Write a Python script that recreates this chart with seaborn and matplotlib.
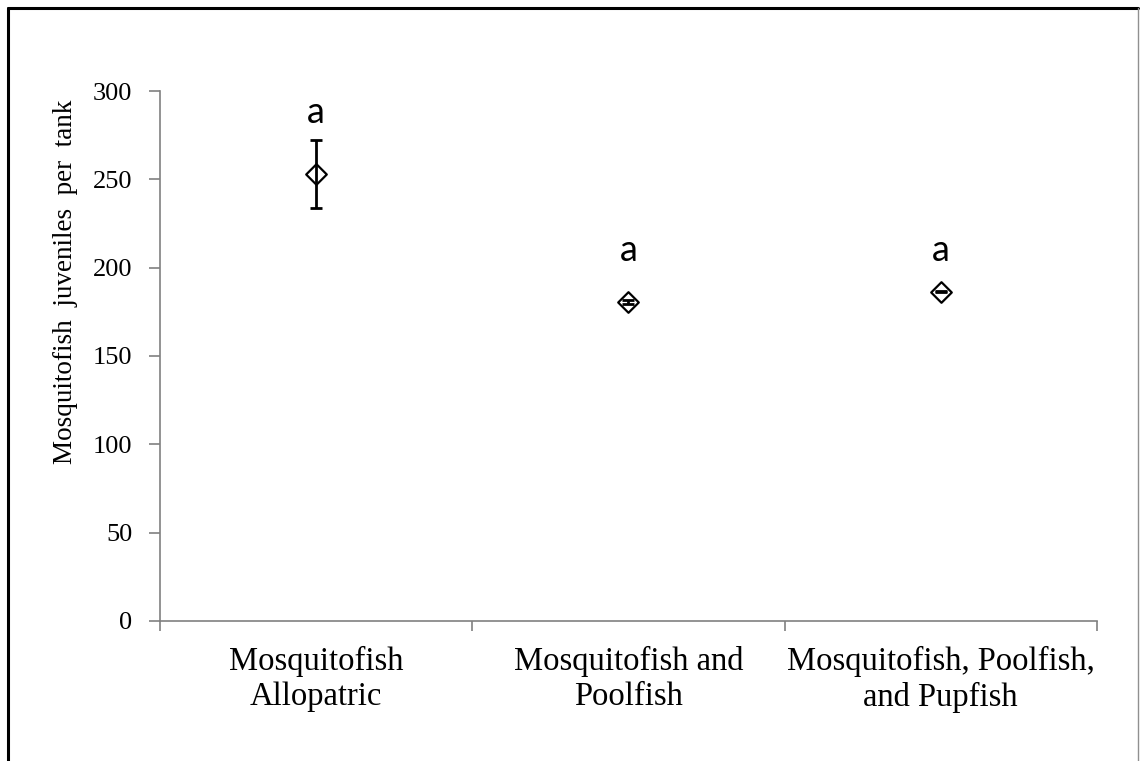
import numpy as np
import pandas as pd
import seaborn as sns
from matplotlib import pyplot as plt
from matplotlib.lines import Line2D

# values
treatments = ["Mosquitofish\nAllopatric", "Mosquitofish and\nPoolfish",
              "Mosquitofish, Poolfish,\nand Pupfish"]
juveniles = [253, 180.7, 186.5]
juv_err = [19, 1.2, 0.5]
letters = ["a", "a", "a"]
letter_y = [282, 204, 204]
y_ticks = [0, 50, 100, 150, 200, 250, 300]

df = pd.DataFrame({"treatment": treatments, "juveniles": juveniles, "err": juv_err})
df["pos"] = np.arange(len(df))

sns.set_style("white")
plt.rcParams.update({"text.color": "black", "axes.labelcolor": "black",
                     "xtick.color": "black", "ytick.color": "black"})
serif = ["Liberation Serif", "DejaVu Serif"]

fig = plt.figure(figsize=(11.41, 7.61), dpi=100)
ax = fig.add_axes([0.1402, 0.184, 0.8212, 0.6964])

# frame around the chart (left/top black, right thin grey)
fig.lines.append(Line2D([0.0068, 0.0068], [0.0, 0.9895], transform=fig.transFigure,
                        color="black", linewidth=2.2))
fig.lines.append(Line2D([0.0068, 0.9975], [0.9895, 0.9895], transform=fig.transFigure,
                        color="black", linewidth=2.2))
fig.lines.append(Line2D([0.9975, 0.9975], [0.0, 0.9895], transform=fig.transFigure,
                        color="#909090", linewidth=1))

ax.errorbar(df["pos"], df["juveniles"], yerr=df["err"], fmt="none", ecolor="black",
            elinewidth=2, capsize=4, capthick=2, zorder=3)
sns.scatterplot(data=df, x="pos", y="juveniles", marker="D", s=110, color="white",
                edgecolor="black", linewidth=1.6, zorder=2, ax=ax, legend=False)

for i, (ly, lab) in enumerate(zip(letter_y, letters)):
    ax.text(i, ly, lab, ha="center", va="baseline", fontsize=26, color="black",
            family=["Lato", "DejaVu Sans"])

ax.set_xlim(-0.5, 2.5)
ax.set_ylim(0, 300)
ax.set_yticks(y_ticks)
ax.set_yticklabels([str(t) for t in y_ticks], family=serif, fontsize=19)
ax.set_xticks([-0.5, 0.5, 1.5, 2.5])
ax.set_xticklabels([])
ax.set_xticks(df["pos"], minor=True)
ax.set_xticklabels(treatments, minor=True, family=serif, fontsize=23.5)
ax.tick_params(axis="x", which="minor", bottom=False, length=0, pad=18)
ax.tick_params(axis="x", which="major", bottom=True, length=7, width=1.2,
               color="#808080", direction="out")
ax.tick_params(axis="y", left=True, length=8, width=1.2, color="#808080",
               direction="out", pad=12)
ax.set_xlabel("")
ax.set_ylabel("Mosquitofish  juveniles  per  tank", family=serif, fontsize=19.5)
ax.yaxis.set_label_coords(-0.088, 0.64)

for side in ["top", "right"]:
    ax.spines[side].set_visible(False)
for side in ["left", "bottom"]:
    ax.spines[side].set_color("#808080")
    ax.spines[side].set_linewidth(1.2)

fig.savefig("out.png", dpi=100)
